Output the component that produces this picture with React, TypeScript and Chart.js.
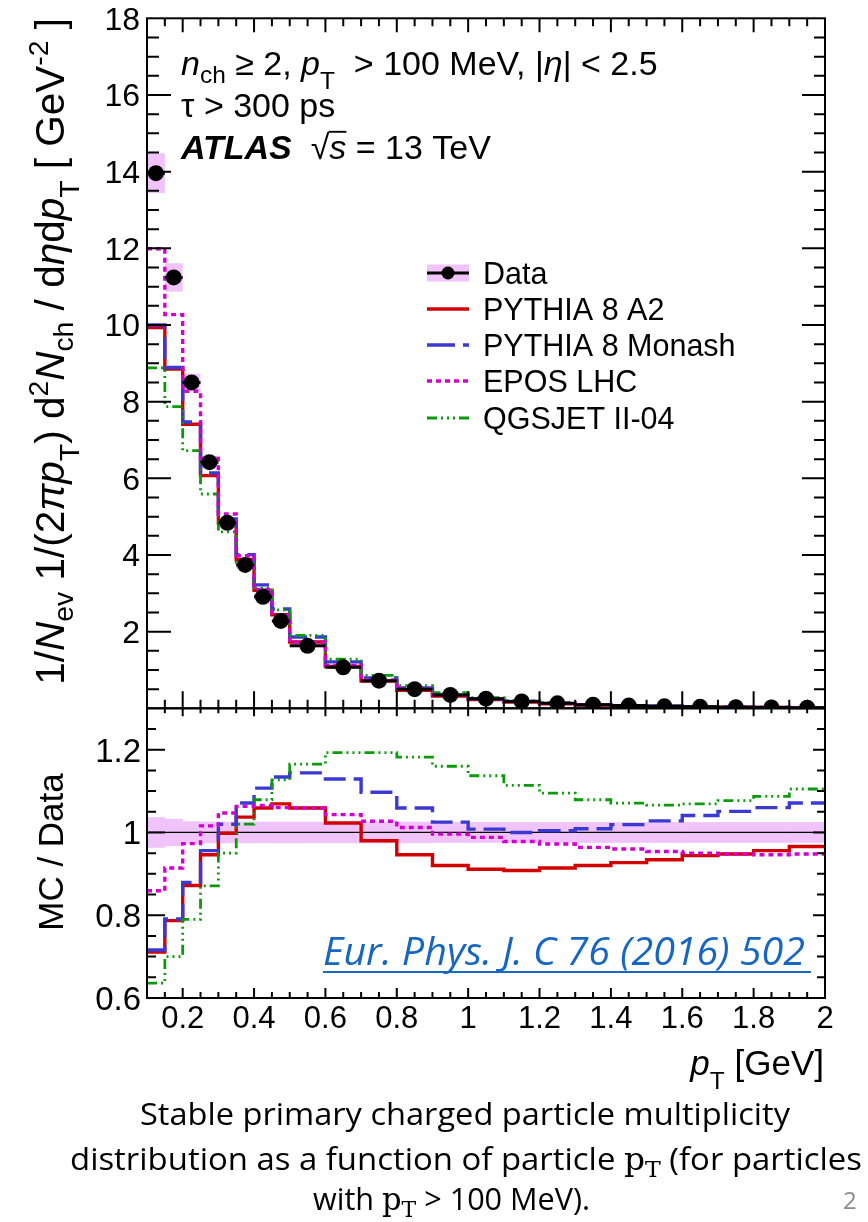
import React, { useEffect, useRef } from 'react';
import { Chart, registerables } from 'chart.js';

Chart.register(...registerables);

// ---------------- data ----------------
const binEdges = [0.1, 0.15, 0.2, 0.25, 0.3, 0.35, 0.4, 0.45, 0.5, 0.6, 0.7, 0.8, 0.9, 1.0, 1.1, 1.2, 1.3, 1.4, 1.5, 1.6, 1.7, 1.8, 1.9, 2.0];

const dataValues = [13.96, 11.24, 8.5, 6.42, 4.84, 3.74, 2.91, 2.28, 1.63, 1.07, 0.72, 0.5, 0.35, 0.25, 0.18, 0.13, 0.095, 0.07, 0.052, 0.039, 0.03, 0.023, 0.017];
const dataErrors = [0.52, 0.37, 0.23, 0.17, 0.13, 0.1, 0.08, 0.06, 0.042, 0.028, 0.019, 0.013, 0.009, 0.0065, 0.0047, 0.0034, 0.0025, 0.0018, 0.0014, 0.001, 0.0008, 0.0006, 0.0005];

const a2Values = [9.93, 8.85, 7.41, 6.07, 4.83, 3.88, 3.08, 2.44, 1.73, 1.09, 0.71, 0.47, 0.32, 0.23, 0.16, 0.12, 0.087, 0.065, 0.049, 0.037, 0.028, 0.022, 0.016];
const monashValues = [10.0, 8.89, 7.47, 6.14, 4.94, 4.01, 3.22, 2.59, 1.86, 1.21, 0.79, 0.53, 0.36, 0.25, 0.18, 0.13, 0.096, 0.071, 0.053, 0.041, 0.032, 0.024, 0.018];
const eposValues = [11.99, 10.27, 8.27, 6.52, 5.07, 3.98, 3.1, 2.42, 1.73, 1.12, 0.74, 0.51, 0.35, 0.25, 0.18, 0.13, 0.092, 0.067, 0.05, 0.037, 0.028, 0.022, 0.016];
const qgsValues = [8.88, 7.87, 6.72, 5.59, 4.6, 3.81, 3.14, 2.57, 1.9, 1.28, 0.86, 0.59, 0.41, 0.28, 0.2, 0.14, 0.1, 0.075, 0.055, 0.042, 0.032, 0.025, 0.019];

const a2Ratio = [0.711, 0.787, 0.872, 0.946, 0.998, 1.037, 1.059, 1.069, 1.059, 1.023, 0.98, 0.946, 0.92, 0.911, 0.908, 0.914, 0.92, 0.927, 0.934, 0.944, 0.948, 0.956, 0.966];
const monashRatio = [0.716, 0.791, 0.879, 0.956, 1.02, 1.071, 1.107, 1.134, 1.144, 1.129, 1.097, 1.059, 1.025, 1.008, 1.0, 1.004, 1.009, 1.019, 1.028, 1.041, 1.051, 1.06, 1.071];
const eposRatio = [0.859, 0.914, 0.973, 1.016, 1.047, 1.063, 1.065, 1.06, 1.059, 1.043, 1.027, 1.012, 0.996, 0.988, 0.978, 0.972, 0.964, 0.96, 0.954, 0.95, 0.948, 0.946, 0.948];
const qgsRatio = [0.636, 0.7, 0.79, 0.871, 0.95, 1.02, 1.079, 1.127, 1.165, 1.193, 1.193, 1.182, 1.16, 1.137, 1.114, 1.095, 1.079, 1.071, 1.066, 1.069, 1.077, 1.087, 1.105];
const ratioBand = [0.037, 0.033, 0.027, 0.026, 0.026, 0.026, 0.026, 0.026, 0.026, 0.026, 0.026, 0.026, 0.025, 0.025, 0.025, 0.025, 0.025, 0.025, 0.025, 0.025, 0.025, 0.025, 0.025];

const xMajorTicks = [0.2, 0.4, 0.6, 0.8, 1.0, 1.2, 1.4, 1.6, 1.8, 2.0];
const xTickLabels = ['0.2', '0.4', '0.6', '0.8', '1', '1.2', '1.4', '1.6', '1.8', '2'];
const yTopMajorTicks = [0, 2, 4, 6, 8, 10, 12, 14, 16, 18];
const yTopTickLabels = ['', '2', '4', '6', '8', '10', '12', '14', '16', '18'];
const yRatioMajorTicks = [0.6, 0.8, 1.0, 1.2];
const yRatioTickLabels = ['0.6', '0.8', '1', '1.2'];

const legendLabels = ['Data', 'PYTHIA 8 A2', 'PYTHIA 8 Monash', 'EPOS LHC', 'QGSJET II-04'];

// ---------------- styles ----------------
const FONT = '"Liberation Sans", Arial, Helvetica, sans-serif';
const CAPFONT = '"Open Sans", "Noto Sans", sans-serif';
const SERIF = '"DejaVu Serif", "Liberation Serif", serif';
const BAND = 'rgb(240,196,250)';
const RED = '#d20000';
const BLUE = '#3a3ad2';
const MAGENTA = '#d200d2';
const GREEN = '#0a9a0a';
const LINK = '#1666c2';

const series = [
  { color: RED, dash: [] as number[], width: 3.4 },
  { color: BLUE, dash: [22, 8], width: 3.4 },
  { color: MAGENTA, dash: [5, 4], width: 3.4 },
  { color: GREEN, dash: [10, 4, 2, 4, 2, 4, 2, 4], width: 2.8 },
];

const PAGE_W = 868;
const PAGE_H = 1222;
const AREA = { left: 147, right: 825, top: 18.3, mid: 708.3, bottom: 998 };

// ---------------- helpers ----------------
type Seg = { t: string; i?: boolean; b?: boolean; r?: number; dy?: number; over?: boolean; fam?: string };

function segFont(s: Seg, size: number, fam: string) {
  const sz = size * (s.r ?? 1);
  return `${s.i ? 'italic ' : ''}${s.b ? 'bold ' : ''}${sz}px ${s.fam ?? fam}`;
}
function richWidth(ctx: CanvasRenderingContext2D, segs: Seg[], size: number, fam: string) {
  let w = 0;
  for (const s of segs) {
    ctx.font = segFont(s, size, fam);
    w += ctx.measureText(s.t).width;
  }
  return w;
}
function drawRich(
  ctx: CanvasRenderingContext2D, segs: Seg[], x: number, y: number, size: number,
  opts: { align?: 'left' | 'right' | 'center'; color?: string; fit?: number; fam?: string; rotate?: boolean } = {}
) {
  const fam = opts.fam ?? FONT;
  ctx.save();
  const w = richWidth(ctx, segs, size, fam);
  const sx = opts.fit ? opts.fit / w : 1;
  ctx.translate(x, y);
  if (opts.rotate) ctx.rotate(-Math.PI / 2);
  ctx.scale(sx, 1);
  const align = opts.align ?? 'left';
  let cx = align === 'left' ? 0 : align === 'right' ? -w : -w / 2;
  ctx.fillStyle = opts.color ?? '#000';
  ctx.strokeStyle = opts.color ?? '#000';
  ctx.textBaseline = 'alphabetic';
  ctx.textAlign = 'left';
  for (const s of segs) {
    ctx.font = segFont(s, size, fam);
    const sw = ctx.measureText(s.t).width;
    const yy = (s.dy ?? 0) * size;
    ctx.fillText(s.t, cx, yy);
    if (s.over) {
      ctx.lineWidth = Math.max(1.5, size * 0.055);
      ctx.beginPath();
      ctx.moveTo(cx - size * 0.02, yy - size * 0.8);
      ctx.lineTo(cx + sw, yy - size * 0.8);
      ctx.stroke();
    }
    cx += sw;
  }
  ctx.restore();
  return w * sx;
}

function steps(values: number[]) {
  const pts = values.map((v, i) => ({ x: binEdges[i], y: v }));
  pts.push({ x: binEdges[binEdges.length - 1], y: values[values.length - 1] });
  return pts;
}
function centers() {
  return binEdges.slice(0, -1).map((e, i) => (e + binEdges[i + 1]) / 2);
}

function minorValues(min: number, max: number, step: number) {
  const n = Math.round((max - min) / step);
  const out: number[] = [];
  for (let i = 0; i <= n; i++) out.push(min + i * step);
  return out;
}

type TickSpec = {
  xMajor: number[]; xMinorStep: number;
  yMajor: number[]; yMinorStep: number;
  bottom: [number, number]; top: [number, number]; left: [number, number]; right: [number, number];
};

function drawFrameAndTicks(chart: any, spec: TickSpec) {
  const { ctx, chartArea: a, scales } = chart;
  const xs = scales.x, ys = scales.y;
  ctx.save();
  ctx.strokeStyle = '#000';
  ctx.lineWidth = 2;
  ctx.strokeRect(a.left, a.top, a.right - a.left, a.bottom - a.top);
  ctx.beginPath();
  const xMinor = minorValues(xs.min, xs.max, spec.xMinorStep);
  const isMajor = (v: number, arr: number[]) => arr.some((m) => Math.abs(m - v) < 1e-6);
  for (const v of xMinor) {
    const px = xs.getPixelForValue(v);
    if (px <= a.left + 0.5 || px >= a.right - 0.5) continue;
    const maj = isMajor(v, spec.xMajor);
    const lb = maj ? spec.bottom[0] : spec.bottom[1];
    const lt = maj ? spec.top[0] : spec.top[1];
    ctx.moveTo(px, a.bottom); ctx.lineTo(px, a.bottom - lb);
    ctx.moveTo(px, a.top); ctx.lineTo(px, a.top + lt);
  }
  const yMinor = minorValues(ys.min, ys.max, spec.yMinorStep);
  for (const v of yMinor) {
    const py = ys.getPixelForValue(v);
    if (py <= a.top + 0.5 || py >= a.bottom - 0.5) continue;
    const maj = isMajor(v, spec.yMajor);
    const ll = maj ? spec.left[0] : spec.left[1];
    const lr = maj ? spec.right[0] : spec.right[1];
    ctx.moveTo(a.left, py); ctx.lineTo(a.left + ll, py);
    ctx.moveTo(a.right, py); ctx.lineTo(a.right - lr, py);
  }
  ctx.stroke();
  ctx.restore();
}

function lineDatasets(valuesList: number[][]) {
  const orders = [4, 3, 1, 2];
  return valuesList.map((vals, k) => ({
    data: steps(vals),
    borderColor: series[k].color,
    borderWidth: series[k].width,
    borderDash: series[k].dash,
    borderCapStyle: 'butt',
    stepped: true,
    pointRadius: 0,
    fill: false,
    tension: 0,
    order: orders[k],
  }));
}

// ---------------- top panel plugin ----------------
const topPlugin = {
  id: 'topDeco',
  beforeDatasetsDraw(chart: any) {
    const { ctx, scales: { x, y } } = chart;
    ctx.save();
    ctx.fillStyle = BAND;
    dataValues.forEach((v, i) => {
      const x0 = x.getPixelForValue(binEdges[i]);
      const x1 = x.getPixelForValue(binEdges[i + 1]);
      const y0 = y.getPixelForValue(v + dataErrors[i]);
      const y1 = y.getPixelForValue(v - dataErrors[i]);
      ctx.fillRect(x0, y0, x1 - x0, y1 - y0);
    });
    ctx.restore();
  },
  afterDatasetsDraw(chart: any) {
    const { ctx, scales: { x, y } } = chart;
    ctx.save();
    ctx.strokeStyle = '#000';
    ctx.lineWidth = 3;
    ctx.beginPath();
    dataValues.forEach((v, i) => {
      const py = y.getPixelForValue(v);
      ctx.moveTo(x.getPixelForValue(binEdges[i]), py);
      ctx.lineTo(x.getPixelForValue(binEdges[i + 1]), py);
    });
    ctx.stroke();
    ctx.restore();
  },
  afterDraw(chart: any) {
    const { ctx, scales: { y } } = chart;
    drawFrameAndTicks(chart, {
      xMajor: xMajorTicks, xMinorStep: 0.05,
      yMajor: yTopMajorTicks, yMinorStep: 0.5,
      bottom: [17, 8.5], top: [14, 8], left: [24, 12], right: [23, 11],
    });
    // y tick labels
    ctx.save();
    ctx.fillStyle = '#000';
    ctx.font = `32px ${FONT}`;
    ctx.textAlign = 'right';
    ctx.textBaseline = 'alphabetic';
    yTopMajorTicks.forEach((v, i) => {
      if (!yTopTickLabels[i]) return;
      ctx.fillText(yTopTickLabels[i], 140, y.getPixelForValue(v) + 11.5);
    });
    ctx.restore();

    // y-axis title (rotated)
    drawRich(ctx, [
      { t: '1/' }, { t: 'N', i: true }, { t: 'ev', r: 0.7, dy: 0.22 },
      { t: ' 1/(2' }, { t: 'π', i: true }, { t: 'p', i: true }, { t: 'T', r: 0.7, dy: 0.38 },
      { t: ') d' }, { t: '2', r: 0.7, dy: -0.4 }, { t: 'N', i: true }, { t: 'ch', r: 0.7, dy: 0.22 },
      { t: ' / d' }, { t: 'η', i: true }, { t: 'd' }, { t: 'p', i: true }, { t: 'T', r: 0.7, dy: 0.38 },
      { t: ' [ GeV' }, { t: '-2', r: 0.7, dy: -0.4 }, { t: ' ]' },
    ], 64, 18, 40.5, { align: 'right', rotate: true });

    // header text
    drawRich(ctx, [
      { t: 'n', i: true }, { t: 'ch', r: 0.72, dy: 0.24 }, { t: ' ≥ 2, ' },
      { t: 'p', i: true }, { t: 'T', r: 0.72, dy: 0.42 }, { t: '  > 100 MeV, |' },
      { t: 'η', i: true }, { t: '| < 2.5' },
    ], 181, 75, 34);
    drawRich(ctx, [{ t: 'τ > 300 ps' }], 181, 117, 34);
    drawRich(ctx, [
      { t: 'ATLAS', i: true, b: true }, { t: '  √' }, { t: 's', i: true, over: true }, { t: ' = 13 TeV' },
    ], 181, 159, 34);

    // legend
    const rowY = [273, 309, 345, 381, 418];
    const sx0 = 427, sx1 = 469;
    ctx.save();
    // Data entry
    ctx.fillStyle = BAND;
    ctx.fillRect(sx0, rowY[0] - 8.5, sx1 - sx0, 17);
    ctx.strokeStyle = '#000';
    ctx.lineWidth = 3;
    ctx.beginPath(); ctx.moveTo(sx0, rowY[0]); ctx.lineTo(sx1, rowY[0]); ctx.stroke();
    ctx.fillStyle = '#000';
    ctx.beginPath(); ctx.arc((sx0 + sx1) / 2, rowY[0], 6.5, 0, Math.PI * 2); ctx.fill();
    series.forEach((s, k) => {
      const yy = rowY[k + 1];
      ctx.strokeStyle = s.color;
      ctx.lineWidth = s.width;
      ctx.lineCap = 'butt';
      ctx.setLineDash(k === 1 ? [28, 8] : s.dash);
      ctx.beginPath(); ctx.moveTo(sx0, yy); ctx.lineTo(sx1, yy); ctx.stroke();
    });
    ctx.setLineDash([]);
    ctx.fillStyle = '#000';
    ctx.font = `30.5px ${FONT}`;
    ctx.textAlign = 'left';
    ctx.textBaseline = 'alphabetic';
    legendLabels.forEach((lab, k) => ctx.fillText(lab, 483, rowY[k] + 11));
    ctx.restore();
  },
};

// ---------------- ratio panel plugin ----------------
const ratioPlugin = {
  id: 'ratioDeco',
  beforeDatasetsDraw(chart: any) {
    const { ctx, chartArea: a, scales: { x, y } } = chart;
    ctx.save();
    ctx.fillStyle = BAND;
    ratioBand.forEach((e, i) => {
      const x0 = x.getPixelForValue(binEdges[i]);
      const x1 = x.getPixelForValue(binEdges[i + 1]);
      const y0 = y.getPixelForValue(1 + e);
      const y1 = y.getPixelForValue(1 - e);
      ctx.fillRect(x0, y0, x1 - x0 + 0.5, y1 - y0);
    });
    ctx.strokeStyle = '#000';
    ctx.lineWidth = 1.2;
    const p1 = y.getPixelForValue(1);
    ctx.beginPath(); ctx.moveTo(a.left, p1); ctx.lineTo(a.right, p1); ctx.stroke();
    ctx.restore();
  },
  afterDraw(chart: any) {
    const { ctx, scales: { x, y } } = chart;
    drawFrameAndTicks(chart, {
      xMajor: xMajorTicks, xMinorStep: 0.05,
      yMajor: yRatioMajorTicks, yMinorStep: 0.05,
      bottom: [10, 6], top: [8, 5], left: [18, 9], right: [12, 8],
    });
    ctx.save();
    ctx.fillStyle = '#000';
    ctx.textBaseline = 'alphabetic';
    ctx.font = `33px ${FONT}`;
    ctx.textAlign = 'right';
    yRatioMajorTicks.forEach((v, i) => ctx.fillText(yRatioTickLabels[i], 141, y.getPixelForValue(v) + 12));
    ctx.font = `31px ${FONT}`;
    ctx.textAlign = 'center';
    xMajorTicks.forEach((v, i) => ctx.fillText(xTickLabels[i], x.getPixelForValue(v), 1028));
    ctx.restore();

    // titles
    drawRich(ctx, [{ t: 'MC / Data' }], 63, 852, 35, { align: 'center', rotate: true });
    drawRich(ctx, [{ t: 'p', i: true }, { t: 'T', r: 0.7, dy: 0.4 }, { t: ' [GeV]' }], 824, 1075, 35, { align: 'right' });

    // journal reference
    const w = drawRich(ctx, [{ t: 'Eur. Phys. J. C 76 (2016) 502', i: true }], 323, 965, 38, { fam: CAPFONT, color: LINK, fit: 482 });
    ctx.save();
    ctx.strokeStyle = LINK;
    ctx.lineWidth = 2;
    ctx.beginPath(); ctx.moveTo(323, 972); ctx.lineTo(323 + w + 6, 972); ctx.stroke();
    ctx.restore();

    // caption
    drawRich(ctx, [{ t: 'Stable primary charged particle multiplicity' }], 140, 1125, 31, { fam: CAPFONT, fit: 650 });
    drawRich(ctx, [
      { t: 'distribution as a function of particle ' }, { t: 'p', fam: SERIF }, { t: 'T', fam: SERIF, r: 0.72, dy: 0.22 },
      { t: ' (for particles' },
    ], 70, 1170, 31, { fam: CAPFONT, fit: 792 });
    drawRich(ctx, [
      { t: 'with ' }, { t: 'p', fam: SERIF }, { t: 'T', fam: SERIF, r: 0.72, dy: 0.22 }, { t: ' > 100 MeV).' },
    ], 313, 1210, 31, { fam: CAPFONT, fit: 277 });
    drawRich(ctx, [{ t: '2' }], 843, 1209, 24, { fam: CAPFONT, color: '#8a8a8a' });
  },
};

function baseOptions(yMin: number, yMax: number, padTop: number, padBottom: number) {
  return {
    animation: false,
    responsive: false,
    maintainAspectRatio: false,
    devicePixelRatio: 1,
    events: [],
    layout: { padding: { left: AREA.left, right: PAGE_W - AREA.right, top: padTop, bottom: padBottom } },
    scales: {
      x: { type: 'linear', min: binEdges[0], max: binEdges[binEdges.length - 1], display: false },
      y: { type: 'linear', min: yMin, max: yMax, display: false },
    },
    plugins: { legend: { display: false }, tooltip: { enabled: false } },
  };
}

export default function App() {
  const topRef = useRef<HTMLCanvasElement>(null);
  const botRef = useRef<HTMLCanvasElement>(null);

  useEffect(() => {
    const ctr = centers();
    const top = new Chart(topRef.current as HTMLCanvasElement, {
      type: 'line',
      data: {
        datasets: [
          {
            data: ctr.map((c, i) => ({ x: c, y: dataValues[i] })),
            showLine: false,
            pointRadius: 8,
            pointBackgroundColor: '#000',
            pointBorderColor: '#000',
            pointBorderWidth: 0,
            order: 0,
          } as any,
          ...lineDatasets([a2Values, monashValues, eposValues, qgsValues]),
        ],
      },
      options: baseOptions(0, 18, AREA.top, PAGE_H - AREA.mid) as any,
      plugins: [topPlugin],
    });
    const bot = new Chart(botRef.current as HTMLCanvasElement, {
      type: 'line',
      data: { datasets: lineDatasets([a2Ratio, monashRatio, eposRatio, qgsRatio]) as any },
      options: baseOptions(0.6, 1.3, AREA.mid, PAGE_H - AREA.bottom) as any,
      plugins: [ratioPlugin],
    });
    return () => {
      top.destroy();
      bot.destroy();
    };
  }, []);

  const cs: React.CSSProperties = { position: 'absolute', left: 0, top: 0, width: PAGE_W, height: PAGE_H };
  return (
    <div style={{ position: 'absolute', left: 0, top: 0, width: PAGE_W, height: PAGE_H, background: '#fff', overflow: 'hidden' }}>
      <canvas ref={topRef} width={PAGE_W} height={PAGE_H} style={cs} />
      <canvas ref={botRef} width={PAGE_W} height={PAGE_H} style={cs} />
    </div>
  );
}
